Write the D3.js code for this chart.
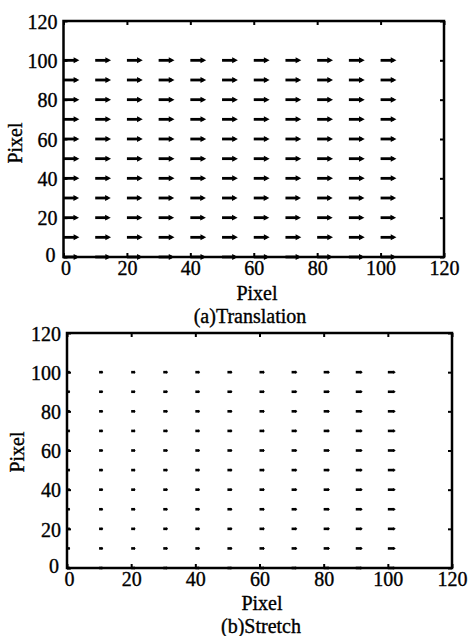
<!DOCTYPE html>
<html><head><meta charset="utf-8">
<script src="https://cdn.jsdelivr.net/npm/d3@7"></script>
<style>body{margin:0;background:#fff}svg{display:block}text{font-family:"Liberation Serif","Times New Roman",serif !important;fill:#000;stroke:#000;stroke-width:0.35px}</style>
</head><body>
<svg id="c" width="470" height="636"></svg>
<script>
// ---- data ----
const tickValues = [0, 20, 40, 60, 80, 100, 120];
const gridXTranslation = [0, 10, 20, 30, 40, 50, 60, 70, 80, 90, 100];
const gridYTranslation = [0, 10, 20, 30, 40, 50, 60, 70, 80, 90, 100];
const uTranslationByRow = [5.0, 5.0, 4.9, 4.9, 5.0, 5.0, 5.0, 5.0, 5.0, 5.0, 5.0];
const vTranslationByRow = [0, 0, 0, 0, 0, 0, 0, 0, 0, 0, 0];
const gridXStretch = [0, 10, 20, 30, 40, 50, 60, 70, 80, 90, 100];
const gridYStretch = [0, 10, 20, 30, 40, 50, 60, 70, 80, 90, 100];
const uStretchByCol = [1.0, 1.3, 1.4, 1.5, 1.5, 1.6, 1.7, 1.8, 2.0, 2.2, 2.5];
const vStretchByCol = [0, 0, 0, 0, 0, 0, 0, 0, 0, 0, 0];
const panelTitles = ["(a)Translation", "(b)Stretch"];
const axisLabel = "Pixel";

const svg = d3.select("#c");

function panel(cfg) {
  const x = d3.scaleLinear().domain([0, 120]).range([cfg.left, cfg.right]);
  const y = d3.scaleLinear().domain([0, 120]).range([cfg.bottom, cfg.top]);
  const g = svg.append("g");

  // arrows
  const arrows = [];
  cfg.gx.forEach((gx, i) => cfg.gy.forEach((gy, j) => {
    arrows.push({x0: gx, y0: gy, u: cfg.u(i, j), v: cfg.v(i, j)});
  }));
  arrows.forEach(a => {
    const x0 = x(a.x0), y0 = y(a.y0), x1 = x(a.x0 + a.u), y1 = y(a.y0 + a.v);
    const len = Math.hypot(x1 - x0, y1 - y0);
    const ang = Math.atan2(y1 - y0, x1 - x0);
    const hl = len * 0.36, hw = Math.max(1.6, len * 0.19);
    g.append("line").attr("x1", x0).attr("y1", y0).attr("x2", x1 - Math.cos(ang) * hl * 0.5).attr("y2", y1 - Math.sin(ang) * hl * 0.5)
      .attr("stroke", "#000").attr("stroke-width", cfg.sw);
    const bx = x1 - Math.cos(ang) * hl, by = y1 - Math.sin(ang) * hl;
    const px = -Math.sin(ang) * hw, py = Math.cos(ang) * hw;
    g.append("path").attr("d", `M${x1},${y1}L${bx + px},${by + py}L${bx - px},${by - py}Z`).attr("fill", "#000");
  });

  // frame
  g.append("rect").attr("x", cfg.left).attr("y", cfg.top).attr("width", cfg.right - cfg.left).attr("height", cfg.bottom - cfg.top)
    .attr("fill", "none").attr("stroke", "#000").attr("stroke-width", 2.5);

  // axes with inward ticks
  const tk = 4;
  const bottomAx = d3.axisBottom(x).tickValues(tickValues).tickSize(-tk).tickFormat(d3.format("d")).tickPadding(3);
  const leftAx = d3.axisLeft(y).tickValues(tickValues).tickSize(-tk).tickFormat(d3.format("d")).tickPadding(6);
  const topAx = d3.axisTop(x).tickValues(tickValues).tickSize(-tk).tickFormat("");
  const rightAx = d3.axisRight(y).tickValues(tickValues).tickSize(-tk).tickFormat("");
  const gb = g.append("g").attr("transform", `translate(0,${cfg.bottom})`).call(bottomAx);
  const gl = g.append("g").attr("transform", `translate(${cfg.left},0)`).call(leftAx);
  g.append("g").attr("transform", `translate(0,${cfg.top})`).call(topAx);
  g.append("g").attr("transform", `translate(${cfg.right},0)`).call(rightAx);
  g.selectAll(".domain").remove();
  g.selectAll("g").attr("font-family", "Liberation Serif");
  g.selectAll(".tick line").attr("stroke", "#000").attr("stroke-width", 2);
  gb.selectAll("text").attr("font-size", 20).attr("font-family", "Liberation Serif").attr("dy", "0.75em")
    .attr("dx", d => d === 0 ? 2 : 0);
  gl.selectAll("text").attr("font-size", 20).attr("font-family", "Liberation Serif")
    .attr("dy", d => d === 0 ? "0.2em" : "0.36em").attr("dx", d => d === 0 ? -2 : 0);

  // labels
  svg.append("text").attr("x", cfg.xlabX).attr("y", cfg.xlabY).attr("text-anchor", "middle").attr("font-size", 20).text(axisLabel);
  svg.append("text").attr("transform", `translate(${cfg.ylabX},${cfg.ylabY}) rotate(-90)`).attr("text-anchor", "middle").attr("font-size", 20).text(axisLabel);
  svg.append("text").attr("x", cfg.titleX).attr("y", cfg.titleY).attr("text-anchor", "middle").attr("font-size", 20).text(cfg.title);
}

panel({
  left: 63.5, right: 444, top: 21, bottom: 257, sw: 2.8,
  gx: gridXTranslation, gy: gridYTranslation,
  u: (i, j) => uTranslationByRow[j], v: (i, j) => vTranslationByRow[j],
  xlabX: 257, xlabY: 300, ylabX: 22, ylabY: 143, titleX: 250, titleY: 323, title: panelTitles[0]
});
panel({
  left: 67, right: 452, top: 333, bottom: 568, sw: 2.6,
  gx: gridXStretch, gy: gridYStretch,
  u: (i, j) => uStretchByCol[i], v: (i, j) => vStretchByCol[i],
  xlabX: 262, xlabY: 610, ylabX: 24, ylabY: 452, titleX: 261, titleY: 633, title: panelTitles[1]
});
</script>
</body></html>
